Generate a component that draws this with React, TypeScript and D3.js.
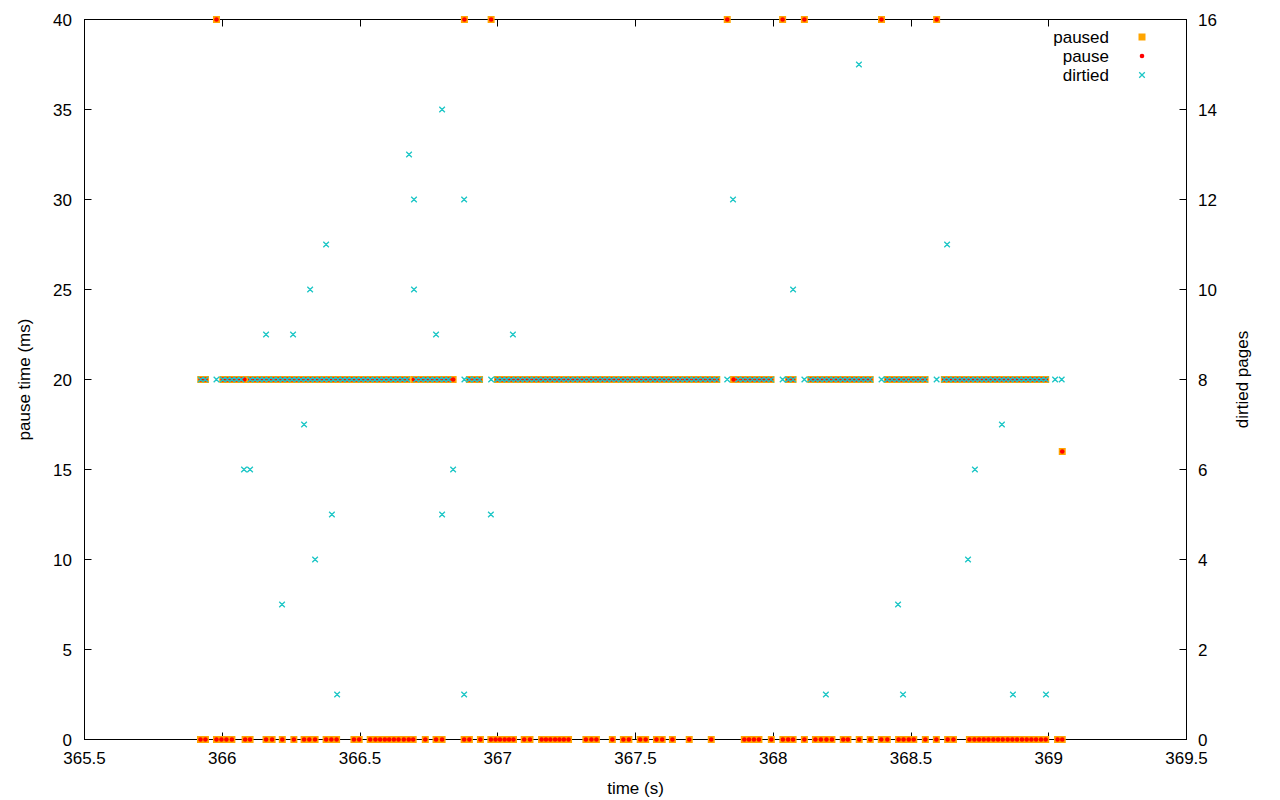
import React from 'react';
import * as d3 from 'd3';

// ---- axes / ticks ----
const xTicks = [365.5, 366, 366.5, 367, 367.5, 368, 368.5, 369, 369.5];
const yTicks = [0, 5, 10, 15, 20, 25, 30, 35, 40];
const y2Ticks = [0, 2, 4, 6, 8, 10, 12, 14, 16];

// ---- data (time in s) ----
// samples with paused = pause = 0 ms
const zeroTimes = [
  365.921, 365.939,
  365.979, 365.997, 366.015, 366.035,
  366.083, 366.101,
  366.159, 366.181,
  366.218,
  366.260,
  366.297, 366.316, 366.337,
  366.377, 366.396, 366.415,
  366.478, 366.497,
  366.537, 366.556, 366.573, 366.590, 366.606, 366.623, 366.640, 366.659, 366.677, 366.693,
  366.737,
  366.776, 366.798,
  366.878, 366.897,
  366.937,
  366.975, 366.992, 367.008, 367.025, 367.041, 367.057,
  367.096, 367.117,
  367.159, 367.175, 367.191, 367.208, 367.224, 367.240, 367.257,
  367.320, 367.340, 367.358,
  367.416,
  367.456, 367.476,
  367.517, 367.537,
  367.576, 367.597,
  367.634,
  367.695,
  367.775,
  367.895, 367.912, 367.930, 367.948,
  367.993,
  368.035, 368.054, 368.072,
  368.113,
  368.153, 368.173, 368.193, 368.213,
  368.254, 368.271,
  368.312,
  368.352,
  368.392, 368.414,
  368.455, 368.473, 368.492, 368.510,
  368.552,
  368.592,
  368.633, 368.654,
  368.712, 368.730, 368.747, 368.764, 368.781, 368.799, 368.816, 368.833, 368.851,
  368.868, 368.885, 368.903, 368.920, 368.937, 368.954, 368.972, 368.989,
  369.032, 369.049,
];

// samples with paused = pause = 20 ms
const bandTimes = [
  365.922, 365.939,
  366.002, 366.019, 366.035, 366.052, 366.069, 366.080, 366.102, 366.119, 366.136, 366.152,
  366.169, 366.186, 366.203, 366.219, 366.236, 366.253, 366.270, 366.286, 366.303, 366.320,
  366.336, 366.353, 366.370, 366.387, 366.403, 366.420, 366.437, 366.453, 366.470, 366.487,
  366.504, 366.520, 366.537, 366.554, 366.570, 366.587, 366.604, 366.621, 366.637, 366.654,
  366.671, 366.696, 366.704, 366.721, 366.738, 366.754, 366.771, 366.788, 366.805, 366.821,
  366.838,
  366.897, 366.916, 366.934,
  366.999, 367.016, 367.032, 367.049, 367.065, 367.082, 367.098, 367.115, 367.132, 367.148,
  367.165, 367.181, 367.198, 367.215, 367.231, 367.248, 367.264, 367.281, 367.297, 367.314,
  367.331, 367.347, 367.364, 367.380, 367.397, 367.413, 367.430, 367.447, 367.463, 367.480,
  367.496, 367.513, 367.529, 367.546, 367.563, 367.579, 367.596, 367.612, 367.629, 367.646,
  367.662, 367.679, 367.695, 367.712, 367.728, 367.745, 367.762, 367.778, 367.795,
  367.856, 367.873, 367.890, 367.907, 367.924, 367.941, 367.958, 367.975, 367.992,
  368.055, 368.072,
  368.136, 368.153, 368.169, 368.186, 368.202, 368.219, 368.236, 368.252, 368.269, 368.286,
  368.302, 368.319, 368.335, 368.352,
  368.414, 368.431, 368.448, 368.465, 368.482, 368.500, 368.517, 368.534, 368.551,
  368.621, 368.637, 368.653, 368.669, 368.685, 368.701, 368.717, 368.733, 368.749, 368.765,
  368.781, 368.797, 368.813, 368.829, 368.845, 368.861, 368.877, 368.893, 368.909, 368.925,
  368.941, 368.957, 368.973, 368.989,
];

// samples with paused = pause = 40 ms
const topTimes = [365.979, 366.879, 366.976, 367.833, 368.034, 368.113, 368.393, 368.593];

// sample with paused = pause = 16 ms
const sixteenTimes = [369.049];

// band samples whose dirtied count is not 8
const bandNotEight = [366.080, 366.696, 366.838, 367.856];

// other samples with dirtied = 8 pages
const extraEightTimes = [365.979, 366.879, 366.976, 367.833, 368.034, 368.113, 368.393, 368.593, 369.023, 369.047];

// scattered dirtied counts (pages)
const dirtiedTimes = [
  366.079, 366.101, 366.159, 366.217, 366.257, 366.297, 366.319, 366.337, 366.377, 366.398,
  366.417, 366.678, 366.696, 366.696, 366.776, 366.798, 366.798, 366.838, 366.878, 366.878,
  366.975, 367.055, 367.854, 368.072, 368.191, 368.311, 368.453, 368.471, 368.631, 368.707,
  368.732, 368.830, 368.870, 368.990,
];
const dirtiedPages = [
  6, 6, 9, 3, 9, 7, 10, 4, 11, 5,
  1, 13, 12, 10, 9, 14, 5, 6, 12, 1,
  5, 9, 12, 10, 1, 15, 3, 1, 11, 4,
  6, 7, 1, 1,
];

const W = 1280;
const H = 800;
const L = 84.5, R = 1186.5, T = 19.5, B = 739.5;
const FONT = '"Liberation Sans", Arial, sans-serif';
const FS = 17;
const ORANGE = '#ffa500';
const RED = '#ff0000';
const CYAN = '#1cc6c6';

export default function App() {
  const x = d3.scaleLinear().domain([365.5, 369.5]).range([L, R]);
  const y = d3.scaleLinear().domain([0, 40]).range([B, T]);
  const y2 = d3.scaleLinear().domain([0, 16]).range([B, T]);

  const paused: [number, number][] = [
    ...zeroTimes.map((t) => [t, 0] as [number, number]),
    ...bandTimes.map((t) => [t, 20] as [number, number]),
    ...topTimes.map((t) => [t, 40] as [number, number]),
    ...sixteenTimes.map((t) => [t, 16] as [number, number]),
  ];
  const pause = paused;
  const dirtied: [number, number][] = [
    ...bandTimes.filter((t) => !bandNotEight.includes(t)).map((t) => [t, 8] as [number, number]),
    ...extraEightTimes.map((t) => [t, 8] as [number, number]),
    ...dirtiedTimes.map((t, i) => [t, dirtiedPages[i]] as [number, number]),
  ];

  const sq = 3.5;
  const xs = 2.8;
  const cross = (cx: number, cy: number) =>
    `M${cx - xs},${cy - xs}L${cx + xs},${cy + xs}M${cx - xs},${cy + xs}L${cx + xs},${cy - xs}`;

  const tickLen = 7;

  return (
    <svg width={W} height={H} style={{ position: 'absolute', left: 0, top: 0, background: '#fff' }}
      fontFamily={FONT} fontSize={FS}>
      <rect x={0} y={0} width={W} height={H} fill="#fff" />

      {/* ticks */}
      {yTicks.map((v) => (
        <g key={'y' + v}>
          <line x1={L} x2={L + tickLen} y1={Math.round(y(v) - 0.5) + 0.5} y2={Math.round(y(v) - 0.5) + 0.5} stroke="#000" />
          <text x={72} y={y(v) + 6} textAnchor="end" fill="#000">{v}</text>
        </g>
      ))}
      {y2Ticks.map((v) => (
        <g key={'y2' + v}>
          <line x1={R - tickLen} x2={R} y1={Math.round(y2(v) - 0.5) + 0.5} y2={Math.round(y2(v) - 0.5) + 0.5} stroke="#000" />
          <text x={1198} y={y2(v) + 6} textAnchor="start" fill="#000">{v}</text>
        </g>
      ))}
      {xTicks.map((v) => (
        <g key={'x' + v}>
          <line x1={Math.round(x(v) - 0.5) + 0.5} x2={Math.round(x(v) - 0.5) + 0.5} y1={B} y2={B - tickLen} stroke="#000" />
          <line x1={Math.round(x(v) - 0.5) + 0.5} x2={Math.round(x(v) - 0.5) + 0.5} y1={T} y2={T + tickLen} stroke="#000" />
          <text x={x(v)} y={764} textAnchor="middle" fill="#000">{v}</text>
        </g>
      ))}

      {/* border */}
      <rect x={L} y={T} width={R - L} height={B - T} fill="none" stroke="#000" strokeWidth={1} />

      {/* paused */}
      <g fill={ORANGE}>
        {paused.map(([t, v], i) => (
          <rect key={i} x={x(t) - sq} y={y(v) - sq} width={sq * 2} height={sq * 2} />
        ))}
      </g>
      {/* pause */}
      <g fill={RED}>
        {pause.map(([t, v], i) => (
          <circle key={i} cx={x(t)} cy={y(v)} r={2.3} />
        ))}
      </g>
      {/* dirtied */}
      <path d={dirtied.map(([t, v]) => cross(x(t), y2(v))).join('')} stroke={CYAN} strokeWidth={1.3} fill="none" />

      {/* legend */}
      <text x={1109} y={37 + 6} textAnchor="end" fill="#000">paused</text>
      <rect x={1142 - sq} y={37 - sq} width={sq * 2} height={sq * 2} fill={ORANGE} />
      <text x={1109} y={56 + 6} textAnchor="end" fill="#000">pause</text>
      <circle cx={1142} cy={56} r={2.3} fill={RED} />
      <text x={1109} y={75 + 6} textAnchor="end" fill="#000">dirtied</text>
      <path d={cross(1142, 75)} stroke={CYAN} strokeWidth={1.3} fill="none" />

      {/* axis titles */}
      <text x={(L + R) / 2} y={794} textAnchor="middle" fill="#000">time (s)</text>
      <text transform={`translate(30,${(T + B) / 2}) rotate(-90)`} textAnchor="middle" fill="#000">pause time (ms)</text>
      <text transform={`translate(1248,${(T + B) / 2}) rotate(-90)`} textAnchor="middle" fill="#000">dirtied pages</text>
    </svg>
  );
}
